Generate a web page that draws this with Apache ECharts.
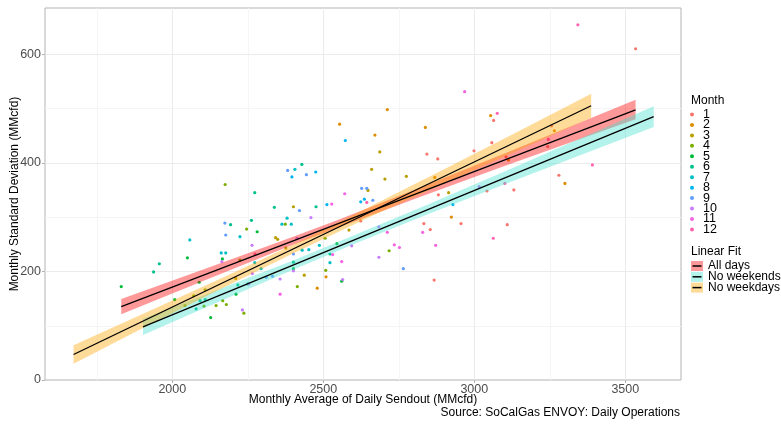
<!DOCTYPE html>
<html>
<head>
<meta charset="utf-8">
<script src="https://cdn.jsdelivr.net/npm/echarts@6/dist/echarts.min.js"></script>
<style>
html,body{margin:0;padding:0;background:#ffffff;}
#chart{width:781px;height:425px;}
</style>
</head>
<body>
<div id="chart"></div>
<script>
// ---------- data ----------
const monthNames = ['1','2','3','4','5','6','7','8','9','10','11','12'];
const monthColors = ['#F8766D','#DE8C00','#B79F00','#7CAE00','#00BA38','#00C08B',
                     '#00BFC4','#00B4F0','#619CFF','#C77CFF','#F564E3','#FF64B0'];

const sendout = [
  1831,1938,1957,2008,2058,2050,2042,2071,2089,2079,
  2092,2109,2109,2105,2127,2145,2167,2179,2162,2177,
  2166,2164,2174,2177,2193,2211,2217,2224,2224,2232,
  2237,2246,2250,2253,2262,2264,2265,2273,2281,2175,
  2273,2338,2380,2363,2374,2394,2342,2349,2274,2294,
  2311,2332,2357,2357,2376,2210,2382,2968,2712,2554,
  2573,2671,2838,2687,3054,3076,3064,3058,2999,2843,
  2879,2660,2704,2775,2869,3105,3101,3131,3042,3016,
  2915,2881,2627,2644,2648,2571,2644,2636,2664,2624,
  2528,2512,2476,2475,2444,2429,2406,2396,2401,2421,
  2459,2624,2833,2854,2956,2924,2929,3109,3063,2684,
  2712,2585,2506,2545,2594,2487,2413,2430,2452,2401,
  2522,2531,2561,2522,2401,2401,2401,2508,2437,2509,
  2561,2564,2414,2480,2735,2752,2718,2684,2765,2829,
  2872,2867,3343,3534,3256,3265,3245,3243,3113,3391,
  3280,3300
];
const stdDev = [
  172,199,214,148,258,225,137,155,180,131,
  146,148,166,136,115,137,146,139,234,234,
  223,218,289,267,286,158,175,221,264,129,
  123,278,177,177,294,248,196,216,273,360,
  345,318,298,287,287,287,262,259,232,205,
  189,191,186,158,243,187,386,531,498,471,
  441,451,465,420,487,491,478,437,422,416,
  407,388,370,375,373,411,362,350,348,356,
  345,341,353,353,349,343,327,333,331,328,
  324,323,319,383,378,397,388,374,319,312,
  299,293,288,277,288,300,323,286,261,282,
  272,276,261,251,247,248,261,239,240,232,
  232,231,218,216,217,201,205,202,193,190,
  182,185,172,169,249,244,238,226,205,272,
  248,184,654,610,468,459,443,430,405,396,
  377,362
];
const month = [
  5,6,6,5,7,5,4,4,5,6,
  6,6,4,4,5,4,4,4,7,7,
  5,10,9,9,6,5,6,4,7,10,
  4,4,6,10,6,10,10,7,5,4,
  6,6,7,7,4,7,3,3,12,7,
  9,9,10,11,3,3,9,11,2,2,
  8,2,2,3,2,12,1,1,1,1,
  1,3,3,3,2,1,12,1,1,10,
  3,1,9,9,3,11,12,8,9,8,
  11,8,6,8,9,6,7,8,3,9,
  10,1,1,1,1,2,8,1,12,10,
  11,3,4,5,10,7,10,7,7,9,
  6,11,11,7,6,10,5,4,3,2,
  5,10,4,2,11,11,4,10,9,11,
  11,1,12,1,1,2,12,1,2,12,
  1,2
];

// linear fits (read endpoints)
const fitNames  = ['All days','No weekends','No weekdays'];
const fitFills  = ['rgba(255,0,0,0.4)','rgba(64,224,208,0.4)','rgba(255,165,0,0.4)'];
const fitStartX = [1831, 1903, 1673];
const fitStartY = [135, 98, 47];
const fitEndX   = [3534, 3594, 3387];
const fitEndY   = [497.5, 485, 505];

// confidence bands (read lower / upper edges)
const allDaysX    = [1831, 2100, 2400, 2550, 2800, 3100, 3534];
const allDaysLo   = [121, 182, 249, 281, 333, 394, 480];
const allDaysHi   = [149, 203, 264, 295, 350, 417, 516];
const noWeekendsX  = [1903, 2150, 2400, 2600, 2850, 3150, 3594];
const noWeekendsLo = [83, 143, 203, 250, 306, 371, 466];
const noWeekendsHi = [113, 166, 220, 266, 324, 396, 504];
const noWeekdaysX  = [1673, 1900, 2150, 2400, 2650, 2900, 3150, 3387];
const noWeekdaysLo = [30, 95, 165, 233, 299, 362, 424, 483];
const noWeekdaysHi = [64, 121, 184, 249, 318, 388, 459, 527];

// axes
const xTicks = [2000, 2500, 3000, 3500];
const xMinor = [1750, 2250, 2750, 3250];
const yTicks = [0, 200, 400, 600];
const yMinor = [100, 300, 500];
const xMin = 1578.5, xMax = 3684.4, yMin = 0, yMax = 685;

// ---------- build ----------
const FONT = "'Liberation Sans', Arial, sans-serif";
const bands = [
  {x: allDaysX, lo: allDaysLo, hi: allDaysHi},
  {x: noWeekendsX, lo: noWeekendsLo, hi: noWeekendsHi},
  {x: noWeekdaysX, lo: noWeekdaysLo, hi: noWeekdaysHi}
];

const series = [];

// panel grid lines
series.push({
  type: 'custom', silent: true, z: 0, animation: false,
  data: [[xTicks[0], yTicks[0]]],
  renderItem: function (params, api) {
    const cs = params.coordSys;
    const top = cs.y, bottom = cs.y + cs.height, left = cs.x, right = cs.x + cs.width;
    const ch = [];
    const vline = (v, c) => { const x = Math.round(api.coord([v, yMin])[0]) + 0.5;
      ch.push({type: 'line', shape: {x1: x, y1: top, x2: x, y2: bottom}, style: {stroke: c, lineWidth: 1}}); };
    const hline = (v, c) => { const y = Math.round(api.coord([xMin, v])[1]) + 0.5;
      ch.push({type: 'line', shape: {x1: left, y1: y, x2: right, y2: y}, style: {stroke: c, lineWidth: 1}}); };
    xMinor.forEach(v => vline(v, '#F5F5F5'));
    yMinor.forEach(v => hline(v, '#F5F5F5'));
    xTicks.forEach(v => vline(v, '#EBEBEB'));
    yTicks.forEach(v => { if (v > yMin) hline(v, '#EBEBEB'); });
    return {type: 'group', children: ch};
  }
});

// scatter by month
monthNames.forEach((name, mi) => {
  const pts = [];
  for (let i = 0; i < sendout.length; i++) {
    if (month[i] === mi + 1) pts.push([sendout[i], stdDev[i]]);
  }
  series.push({
    type: 'scatter', name: name, data: pts, symbol: 'circle', symbolSize: 3.2,
    itemStyle: {color: monthColors[mi], opacity: 1}, z: 1, silent: true
  });
});

// bands
bands.forEach((b, bi) => {
  series.push({
    type: 'custom', name: fitNames[bi] + ' band', silent: true, z: 2, animation: false,
    data: [[b.x[0], b.lo[0]]],
    renderItem: function (params, api) {
      const pts = [];
      for (let k = 0; k < b.x.length; k++) pts.push(api.coord([b.x[k], b.hi[k]]));
      for (let k = b.x.length - 1; k >= 0; k--) pts.push(api.coord([b.x[k], b.lo[k]]));
      return {type: 'polygon', shape: {points: pts}, style: {fill: fitFills[bi]}};
    }
  });
});

// fit lines
fitNames.forEach((n, fi) => {
  series.push({
    type: 'line', name: n, data: [[fitStartX[fi], fitStartY[fi]], [fitEndX[fi], fitEndY[fi]]],
    symbol: 'none', lineStyle: {color: '#000000', width: 1.3}, z: 3, silent: true
  });
});

// graphics: titles and Linear Fit legend
const txt = (x, y, s, align, size, extra) => Object.assign({
  type: 'text', x: x, y: y, silent: true,
  style: {text: s, fill: '#000000', fontSize: size || 12, fontFamily: FONT,
          align: align || 'left', textAlign: align || 'left',
          verticalAlign: 'middle', textVerticalAlign: 'middle'}
}, extra || {});

const graphics = [
  txt(363, 400, 'Monthly Average of Daily Sendout (MMcfd)', 'center', 12),
  txt(680, 413, 'Source: SoCalGas ENVOY: Daily Operations', 'right', 12),
  txt(15, 194, 'Monthly Standard Deviation (MMcfd)', 'center', 12, {rotation: Math.PI / 2}),
  txt(691, 100.5, 'Month', 'left', 12),
  txt(691, 252, 'Linear Fit', 'left', 12)
];
const keyY = [266, 276.8, 287.6];
fitNames.forEach((n, fi) => {
  graphics.push({type: 'rect', silent: true, shape: {x: 691, y: keyY[fi] - 5, width: 12, height: 10},
                 style: {fill: fitFills[fi]}});
  graphics.push({type: 'line', silent: true, shape: {x1: 692.5, y1: keyY[fi], x2: 701.5, y2: keyY[fi]},
                 style: {stroke: '#000000', lineWidth: 1.5}});
  graphics.push(txt(708, keyY[fi] - 0.3, n, 'left', 12));
});

const plainLabel = v => String(v);

const option = {
  animation: false,
  backgroundColor: '#ffffff',
  grid: {left: 45, right: 100, top: 8, bottom: 45, show: true,
         borderColor: '#B3B3B3', borderWidth: 1, backgroundColor: '#ffffff', containLabel: false},
  xAxis: {
    type: 'value', min: xMin, max: xMax,
    axisLine: {show: false},
    splitLine: {show: false},
    axisTick: {show: true, customValues: xTicks, length: 3, lineStyle: {color: '#B3B3B3'}},
    axisLabel: {customValues: xTicks, formatter: plainLabel, margin: 3, color: '#4D4D4D',
                fontSize: 12.5, fontFamily: FONT}
  },
  yAxis: {
    type: 'value', min: yMin, max: yMax,
    axisLine: {show: false},
    splitLine: {show: false},
    axisTick: {show: true, customValues: yTicks, length: 3, lineStyle: {color: '#B3B3B3'}},
    axisLabel: {customValues: yTicks, formatter: plainLabel, margin: 4, color: '#4D4D4D',
                fontSize: 12.5, fontFamily: FONT}
  },
  legend: {
    data: monthNames, orient: 'vertical', left: 690, top: 108, padding: 0,
    itemGap: -2.55, itemWidth: 12, itemHeight: 4, icon: 'circle', selectedMode: false,
    textStyle: {fontSize: 12.5, color: '#000000', fontFamily: FONT}
  },
  graphic: graphics,
  series: series
};

const chart = echarts.init(document.getElementById('chart'), null, {renderer: 'canvas'});
chart.setOption(option);
</script>
</body>
</html>
